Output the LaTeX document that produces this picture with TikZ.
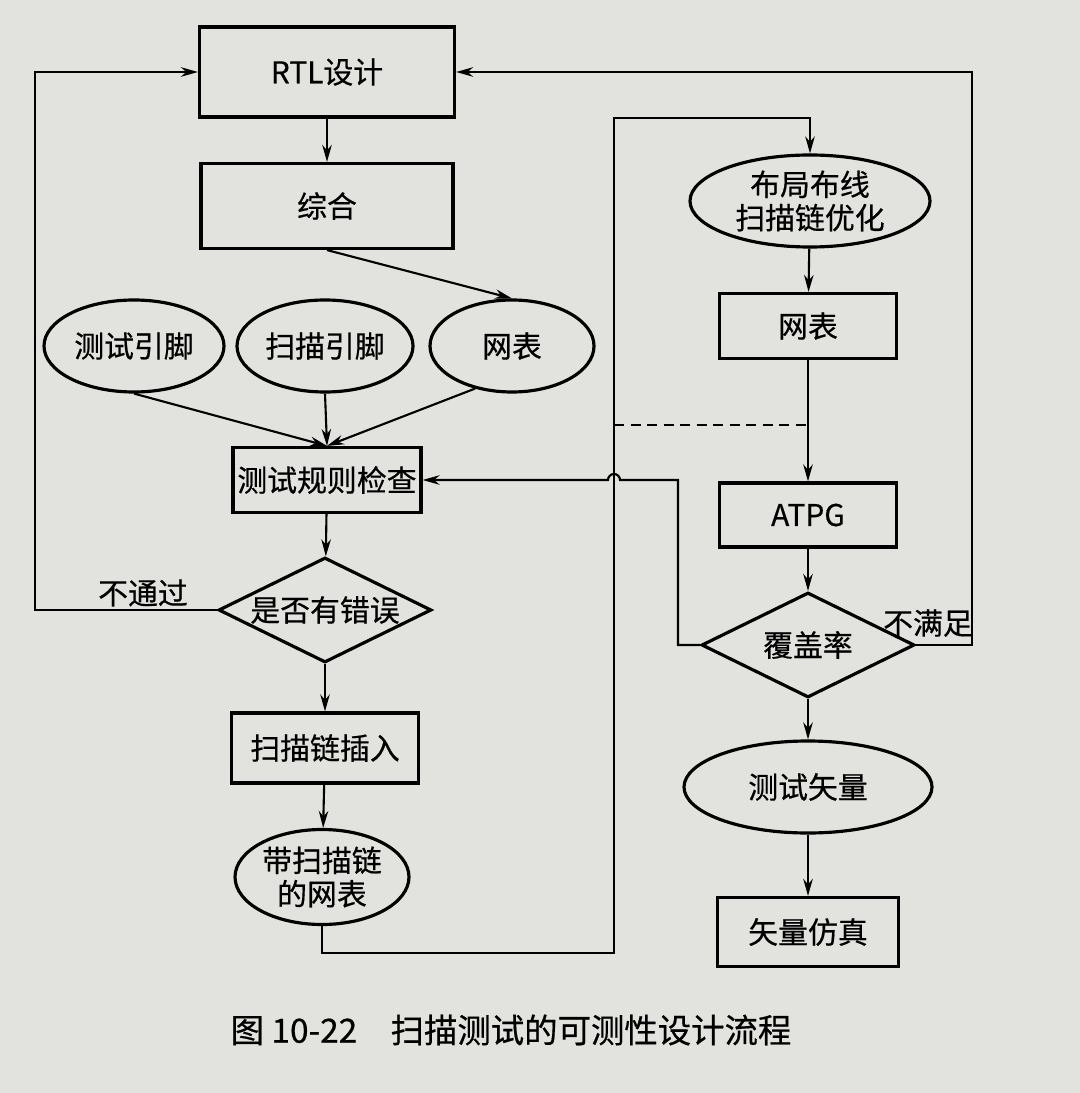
\documentclass[tikz,border=0pt]{standalone}
\usepackage{fontspec}
\setmainfont{Noto Sans CJK SC}[FakeBold=0.5]
\usepackage{tikz}
\usetikzlibrary{shapes.geometric,arrows.meta}
\definecolor{paper}{RGB}{226,226,222}

\begin{document}
\begin{tikzpicture}[x=0.2mm, y=-0.2mm,
	every node/.style={font=\fontsize{17pt}{19pt}\selectfont, draw=black, line width=1.8pt, inner sep=1pt},
	box/.style={rectangle},
	oval/.style={ellipse, align=center, minimum height=18.4mm},
	dia/.style={diamond, aspect=2, minimum width=42.6mm, minimum height=21mm, inner sep=0pt},
	lbl/.style={draw=none},
	flow/.style={draw=black, line width=1.2pt, -{Stealth[length=3.4mm, width=1.9mm]}},
	wire/.style={draw=black, line width=1.4pt}]
	\useasboundingbox[fill=paper] (0,0) rectangle (1080,1093);
	
	\node[box, minimum width=51mm, minimum height=18mm] (rtl) at (327,72){RTL设计};
	\node[box, minimum width=50.4mm, minimum height=17mm] (syn) at (327,206){综合};
	\node[oval, minimum width=36mm] (pin1) at (134,346){测试引脚};
	\node[oval, minimum width=35.2mm] (pin2) at (325,346){扫描引脚};
	\node[oval, minimum width=32.8mm] (net1) at (512,346){网表};
	\node[box, minimum width=37.6mm, minimum height=13mm] (drc) at (327,480){测试规则检查};
	\node[dia] (chk) at (325,610){是否有错误};
	\node[box, minimum width=37.4mm, minimum height=14mm] (ins) at (325,748){扫描链插入};
	\node[oval, minimum width=34mm, minimum height=19mm] (snet) at (322,877){带扫描链\\的网表};
	
	\node[oval, minimum width=48mm] (pnr) at (810,201){布局布线\\扫描链优化};
	\node[box, minimum width=35.4mm, minimum height=13mm] (net2) at (808,326){网表};
	\node[box, minimum width=35.4mm, minimum height=12.8mm] (atpg) at (808,515){ATPG};
	\node[dia] (cov) at (808,645){覆盖率};
	\node[oval, minimum width=49.6mm] (vec) at (808,787){测试矢量};
	\node[box, minimum width=36.2mm, minimum height=13.8mm] (sim) at (808,932){矢量仿真};
	
	\node[lbl] (fail) at (143,593){不通过};
	\node[lbl] (low) at (928,623){不满足};
	\node[lbl, font=\fontsize{19pt}{23pt}\selectfont] (cap) at (511,1030){图 10-22\quad 扫描测试的可测性设计流程};
	
	\coordinate (lft) at (35,0);
	\coordinate (c1) at (614,953);
	\coordinate (c2) at (614,118);
	\coordinate (c3) at (678,480);
	\coordinate (c4) at (972,72);
	\coordinate (d1) at (614,425);
	
	\path (rtl) edge[flow] (syn);
	\path (syn.south) edge[flow] (net1.north);
	\path (pin1.south) edge[flow] (drc.north);
	\path (pin2.south) edge[flow] (drc.north);
	\path (net1.229) edge[flow] (drc.north);
	\path (drc) edge[flow] (chk);
	\path (chk) edge[flow] (ins);
	\path (ins) edge[flow] (snet);
	\path (pnr) edge[flow] (net2);
	\path (net2) edge[flow] (atpg);
	\path (atpg) edge[flow] (cov);
	\path (cov) edge[flow] (vec);
	\path (vec) edge[flow] (sim);
	
	\draw[flow] (chk.west) -- (chk.west -| lft) |- (rtl.west);
	\draw[flow] (snet.south) |- (c1) -- (c2) -| (pnr.north);
	\draw[flow] (cov.west) -| (c3) -- (620,480) arc[start angle=0, end angle=180, radius=1.2mm] -- (drc.east);
	\draw[flow] (cov.east) -| (c4) -- (rtl.east);
	\draw[wire, dash pattern=on 2mm off 1.3mm] (d1) -- (d1 -| atpg);
\end{tikzpicture}
\end{document}
